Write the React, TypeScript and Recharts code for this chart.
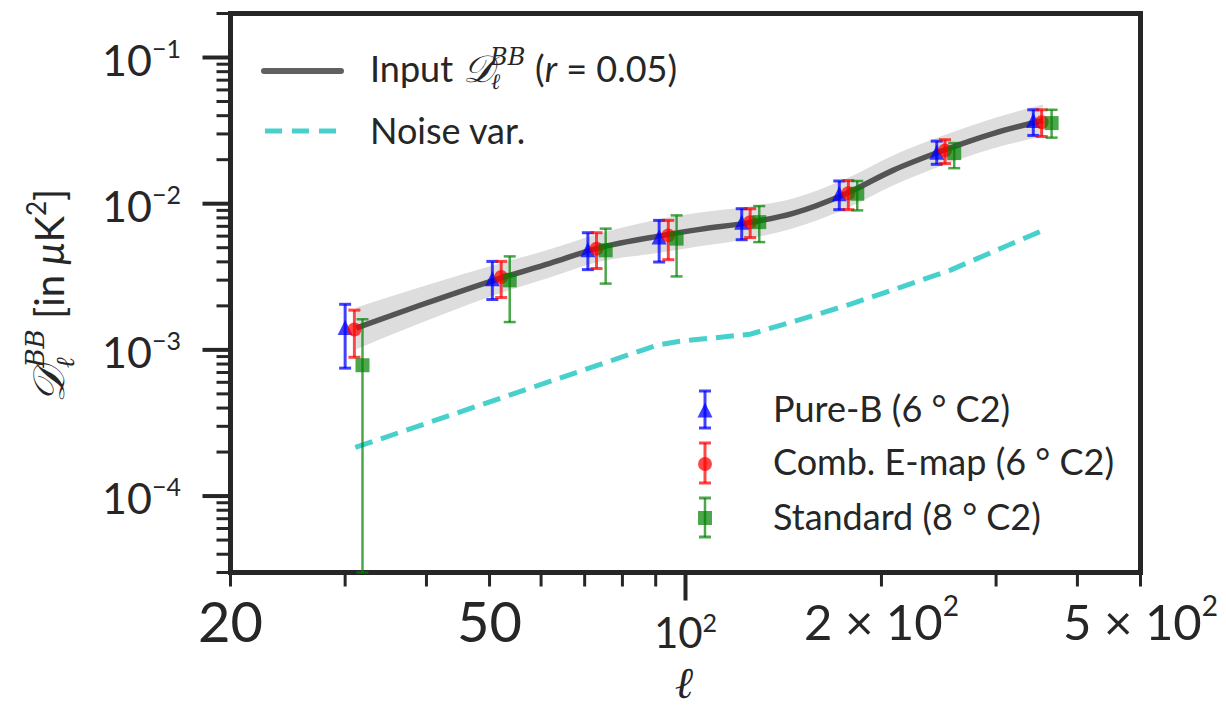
import React from "react";
import {
  Area,
  ComposedChart,
  ErrorBar,
  Legend,
  Line,
  ReferenceArea,
  Scatter,
  XAxis,
  YAxis,
} from "recharts";

const W = 1210;
const H = 705;
const X_MIN = 20;
const X_MAX = 500;
const Y_MIN = 3e-5;
const Y_MAX = 0.2;
const INK = "#262626";
const FONT = "Lato, 'Open Sans', sans-serif";
const MATH = "'DejaVu Serif', serif";

// input spectrum (r = 0.05) and its grey band
const theoryEll = [31.2, 39.1, 51.9, 61.9, 73.1, 92.3, 105.2, 125.7, 146.3, 177.0, 208.3, 248.6, 296.7, 354.1];
const theoryDl = [1.41e-3, 2.02e-3, 3.09e-3, 3.91e-3, 4.95e-3, 6.07e-3, 6.67e-3, 7.45e-3, 8.59e-3, 1.18e-2, 1.69e-2, 2.31e-2, 3.02e-2, 3.71e-2];
const bandLow = [1.01e-3, 1.52e-3, 2.44e-3, 3.13e-3, 3.97e-3, 4.65e-3, 5.11e-3, 5.79e-3, 6.78e-3, 9.29e-3, 1.33e-2, 1.83e-2, 2.39e-2, 2.88e-2];
const bandHigh = [1.95e-3, 2.68e-3, 3.91e-3, 4.87e-3, 6.17e-3, 7.93e-3, 8.72e-3, 9.58e-3, 1.087e-2, 1.49e-2, 2.14e-2, 2.93e-2, 3.83e-2, 4.77e-2];

// noise variance
const noiseEll = [31.1, 43.5, 61.9, 90.3, 98.0, 125.7, 149.9, 178.9, 213.4, 254.8, 304.1, 354.1];
const noiseVar = [2.15e-4, 3.57e-4, 6.08e-4, 1.075e-3, 1.145e-3, 1.28e-3, 1.61e-3, 2.05e-3, 2.67e-3, 3.5e-3, 4.92e-3, 6.57e-3];

// Pure-B (6° C2)
const pureEll = [30.0, 50.5, 70.8, 91.1, 122.0, 172.3, 243.2, 342.2];
const pureVal = [1.42e-3, 3.07e-3, 4.85e-3, 5.91e-3, 7.48e-3, 1.17e-2, 2.25e-2, 3.71e-2];
const pureLo = [7.5e-4, 2.21e-3, 3.54e-3, 3.99e-3, 5.67e-3, 9.1e-3, 1.86e-2, 2.93e-2];
const pureHi = [2.05e-3, 4.03e-3, 6.33e-3, 7.69e-3, 9.24e-3, 1.43e-2, 2.68e-2, 4.39e-2];

// Comb. E-map (6° C2)
const combEll = [31.0, 52.1, 73.0, 94.1, 125.7, 177.9, 250.4, 352.5];
const combVal = [1.38e-3, 3.15e-3, 4.92e-3, 6.07e-3, 7.48e-3, 1.18e-2, 2.31e-2, 3.61e-2];
const combLo = [8.9e-4, 2.28e-3, 3.6e-3, 4.14e-3, 5.86e-3, 9.1e-3, 1.88e-2, 2.88e-2];
const combHi = [1.87e-3, 4.03e-3, 6.33e-3, 7.69e-3, 9.24e-3, 1.44e-2, 2.74e-2, 4.39e-2];

// Standard (8° C2); first lower bound is below zero, bar runs off the axis
const stdEll = [31.9, 53.7, 75.4, 96.9, 129.8, 183.6, 258.7, 365.1];
const stdVal = [7.85e-4, 2.99e-3, 4.8e-3, 5.77e-3, 7.48e-3, 1.17e-2, 2.22e-2, 3.56e-2];
const stdLo = [null, 1.55e-3, 2.84e-3, 3.18e-3, 5.46e-3, 9.0e-3, 1.75e-2, 2.83e-2];
const stdHi = [1.62e-3, 4.36e-3, 6.75e-3, 8.32e-3, 9.63e-3, 1.43e-2, 2.6e-2, 4.39e-2];

const xTicks = [20, 30, 40, 50, 60, 70, 80, 90, 100, 200, 300, 400, 500];
const yTicks = [
  3e-5, 4e-5, 5e-5, 6e-5, 7e-5, 8e-5, 9e-5,
  1e-4, 2e-4, 3e-4, 4e-4, 5e-4, 6e-4, 7e-4, 8e-4, 9e-4,
  1e-3, 2e-3, 3e-3, 4e-3, 5e-3, 6e-3, 7e-3, 8e-3, 9e-3,
  1e-2, 2e-2, 3e-2, 4e-2, 5e-2, 6e-2, 7e-2, 8e-2, 9e-2,
  1e-1, 2e-1,
];

const theoryRows = theoryEll.map((l, i) => ({ l, dl: theoryDl[i], band: [bandLow[i], bandHigh[i]] }));
const noiseRows = noiseEll.map((l, i) => ({ l, v: noiseVar[i] }));

function points(ell: number[], val: number[], lo: (number | null)[], hi: number[]) {
  return ell.map((l, i) => ({ l, v: val[i], err: [val[i] - (lo[i] ?? Y_MIN), hi[i] - val[i]] }));
}
const pureRows = points(pureEll, pureVal, pureLo, pureHi);
const combRows = points(combEll, combVal, combLo, combHi);
const stdRows = points(stdEll, stdVal, stdLo, stdHi);

const BLUE = "rgba(0,0,255,0.75)";
const RED = "rgba(255,0,0,0.72)";
const GREEN = "rgba(0,128,0,0.7)";
const NOISE = "#48D1CC";

const Tri = ({ cx, cy }: any) => (
  <path d={`M${cx},${cy - 7.5}L${cx + 7.5},${cy + 7.5}L${cx - 7.5},${cy + 7.5}Z`} fill={BLUE} />
);
const Dot = ({ cx, cy }: any) => <circle cx={cx} cy={cy} r={7} fill={RED} />;
const Sq = ({ cx, cy }: any) => <rect x={cx - 7} y={cy - 7} width={14} height={14} fill={GREEN} />;

function isMajor(v: number) {
  const e = Math.log10(v);
  return Math.abs(e - Math.round(e)) < 1e-9;
}

function XTick({ x, y, payload }: any) {
  const v = payload.value as number;
  const major = v === 100;
  let label = null;
  if (v === 20 || v === 50) {
    label = (
      <text x={x} y={y + 69.5} textAnchor="middle" fontSize={56} fill={INK} fontFamily={FONT}>
        {v}
      </text>
    );
  } else if (v === 100) {
    label = (
      <text x={x} y={y + 75.5} textAnchor="middle" fontSize={42} fill={INK} fontFamily={FONT}>
        10
        <tspan fontSize={25} dy={-16}>2</tspan>
      </text>
    );
  } else if (v === 200 || v === 500) {
    label = (
      <text x={x} y={y + 67.5} textAnchor="middle" fontSize={49} fill={INK} fontFamily={FONT}>
        {v / 100} × 10
        <tspan fontSize={28} dy={-24}>2</tspan>
      </text>
    );
  }
  return (
    <g>
      <line x1={x} x2={x} y1={y} y2={y + (major ? 28 : 14)} stroke={INK} strokeWidth={major ? 4 : 3} />
      {label}
    </g>
  );
}

function YTick({ x, y, payload }: any) {
  const v = payload.value as number;
  const major = isMajor(v);
  const exp = Math.round(Math.log10(v));
  return (
    <g>
      <line x1={x} x2={x - (major ? 28 : 14)} y1={y} y2={y} stroke={INK} strokeWidth={major ? 4 : 3} />
      {major && (
        <text x={x - 49.5} y={y + 18} textAnchor="end" fontSize={43} fill={INK} fontFamily={FONT}>
          10
          <tspan fontSize={25} dy={-18}>{"\u2212" + Math.abs(exp)}</tspan>
        </text>
      )}
    </g>
  );
}

function Legends() {
  const t = { fill: INK, fontFamily: FONT, fontSize: 36 };
  return (
    <svg width={W} height={H} style={{ position: "absolute", left: 0, top: 0 }}>
      <line x1={256} x2={333} y1={63} y2={63} stroke="black" strokeOpacity={0.62} strokeWidth={6} strokeLinecap="round" />
      <text x={362} y={74} {...t}>Input</text>
      <text x={455} y={74} fill={INK} fontFamily={MATH} fontStyle="italic" fontSize={38}>𝒟</text>
      <text x={482} y={57} fill={INK} fontFamily={MATH} fontStyle="italic" fontSize={24}>BB</text>
      <text x={483} y={81} fill={INK} fontFamily={MATH} fontStyle="italic" fontSize={22}>ℓ</text>
      <text x={527} y={74} {...t}>
        (<tspan fontStyle="italic">r</tspan> = 0.05)
      </text>
      <line x1={257} x2={331} y1={123} y2={123} stroke={NOISE} strokeWidth={5} strokeDasharray="17 10" />
      <text x={362} y={136} {...t}>Noise var.</text>

      <line x1={697} x2={697} y1={383} y2={420} stroke={BLUE} strokeWidth={3} />
      <line x1={691} x2={703} y1={383} y2={383} stroke={BLUE} strokeWidth={3} />
      <line x1={691} x2={703} y1={420} y2={420} stroke={BLUE} strokeWidth={3} />
      <Tri cx={697} cy={402} />
      <text x={765} y={414} {...t}>Pure-B (6 ° C2)</text>

      <line x1={697} x2={697} y1={435} y2={475} stroke={RED} strokeWidth={3} />
      <line x1={691} x2={703} y1={435} y2={435} stroke={RED} strokeWidth={3} />
      <line x1={691} x2={703} y1={475} y2={475} stroke={RED} strokeWidth={3} />
      <Dot cx={697} cy={456} />
      <text x={765} y={467} {...t}>Comb. E-map (6 ° C2)</text>

      <line x1={697} x2={697} y1={490} y2={529} stroke={GREEN} strokeWidth={2.5} />
      <line x1={691} x2={703} y1={490} y2={490} stroke={GREEN} strokeWidth={3} />
      <line x1={691} x2={703} y1={529} y2={529} stroke={GREEN} strokeWidth={3} />
      <Sq cx={697} cy={510} />
      <text x={765} y={522} {...t}>Standard (8 ° C2)</text>

      <text
        transform="rotate(-90 56 288)"
        x={56}
        y={288}
        textAnchor="middle"
        fill={INK}
        fontFamily={FONT}
        fontSize={40}
      >
        <tspan fontFamily={MATH} fontStyle="italic" fontSize={44}>𝒟</tspan>
        <tspan fontFamily={MATH} fontStyle="italic" fontSize={26} dy={10}>ℓ</tspan>
        <tspan fontFamily={MATH} fontStyle="italic" fontSize={26} dx={-10} dy={-30}>BB</tspan>
        <tspan dy={20}> [in </tspan>
        <tspan fontStyle="italic">μ</tspan>
        <tspan>K</tspan>
        <tspan fontSize={26} dy={-18}>2</tspan>
        <tspan dy={18}>]</tspan>
      </text>
      <text x={676} y={690} textAnchor="middle" fill={INK} fontFamily={MATH} fontStyle="italic" fontSize={44}>
        ℓ
      </text>
    </svg>
  );
}

export default function App() {
  return (
    <ComposedChart
      width={W}
      height={H}
      data={theoryRows}
      margin={{ top: 5.5, right: 77.5, bottom: 0, left: 0 }}
    >
      <XAxis
        dataKey="l"
        type="number"
        scale="log"
        domain={[X_MIN, X_MAX]}
        allowDataOverflow
        ticks={xTicks}
        interval={0}
        tick={<XTick />}
        tickLine={false}
        axisLine={false}
        tickSize={0}
        tickMargin={0}
        height={140.5}
      />
      <YAxis
        type="number"
        scale="log"
        domain={[Y_MIN, Y_MAX]}
        allowDataOverflow
        ticks={yTicks}
        interval={0}
        tick={<YTick />}
        tickLine={false}
        axisLine={false}
        tickSize={0}
        tickMargin={0}
        width={222.5}
      />
      <Area
        dataKey="band"
        type="monotone"
        stroke="none"
        fill="#dddddd"
        fillOpacity={1}
        isAnimationActive={false}
      />
      <Line
        dataKey="dl"
        type="monotone"
        stroke="black"
        strokeOpacity={0.62}
        strokeWidth={5.5}
        dot={false}
        activeDot={false}
        isAnimationActive={false}
      />
      <Line
        data={noiseRows}
        dataKey="v"
        type="linear"
        stroke={NOISE}
        strokeWidth={5}
        strokeDasharray="18 9"
        dot={false}
        activeDot={false}
        isAnimationActive={false}
      />
      <Scatter data={pureRows} dataKey="v" shape={<Tri />} isAnimationActive={false}>
        <ErrorBar dataKey="err" direction="y" width={6} stroke={BLUE} strokeWidth={3} />
      </Scatter>
      <Scatter data={combRows} dataKey="v" shape={<Dot />} isAnimationActive={false}>
        <ErrorBar dataKey="err" direction="y" width={6} stroke={RED} strokeWidth={3} />
      </Scatter>
      <Scatter data={stdRows} dataKey="v" shape={<Sq />} isAnimationActive={false}>
        <ErrorBar dataKey="err" direction="y" width={6} stroke={GREEN} strokeWidth={2.5} />
      </Scatter>
      <ReferenceArea
        x1={X_MIN}
        x2={X_MAX}
        y1={Y_MIN}
        y2={Y_MAX}
        fill="none"
        stroke={INK}
        strokeWidth={5}
      />
      <Legend
        layout="horizontal"
        verticalAlign="middle"
        content={() => <Legends />}
        wrapperStyle={{ position: "absolute", left: 0, top: 0, width: W, height: H, pointerEvents: "none" }}
      />
    </ComposedChart>
  );
}
